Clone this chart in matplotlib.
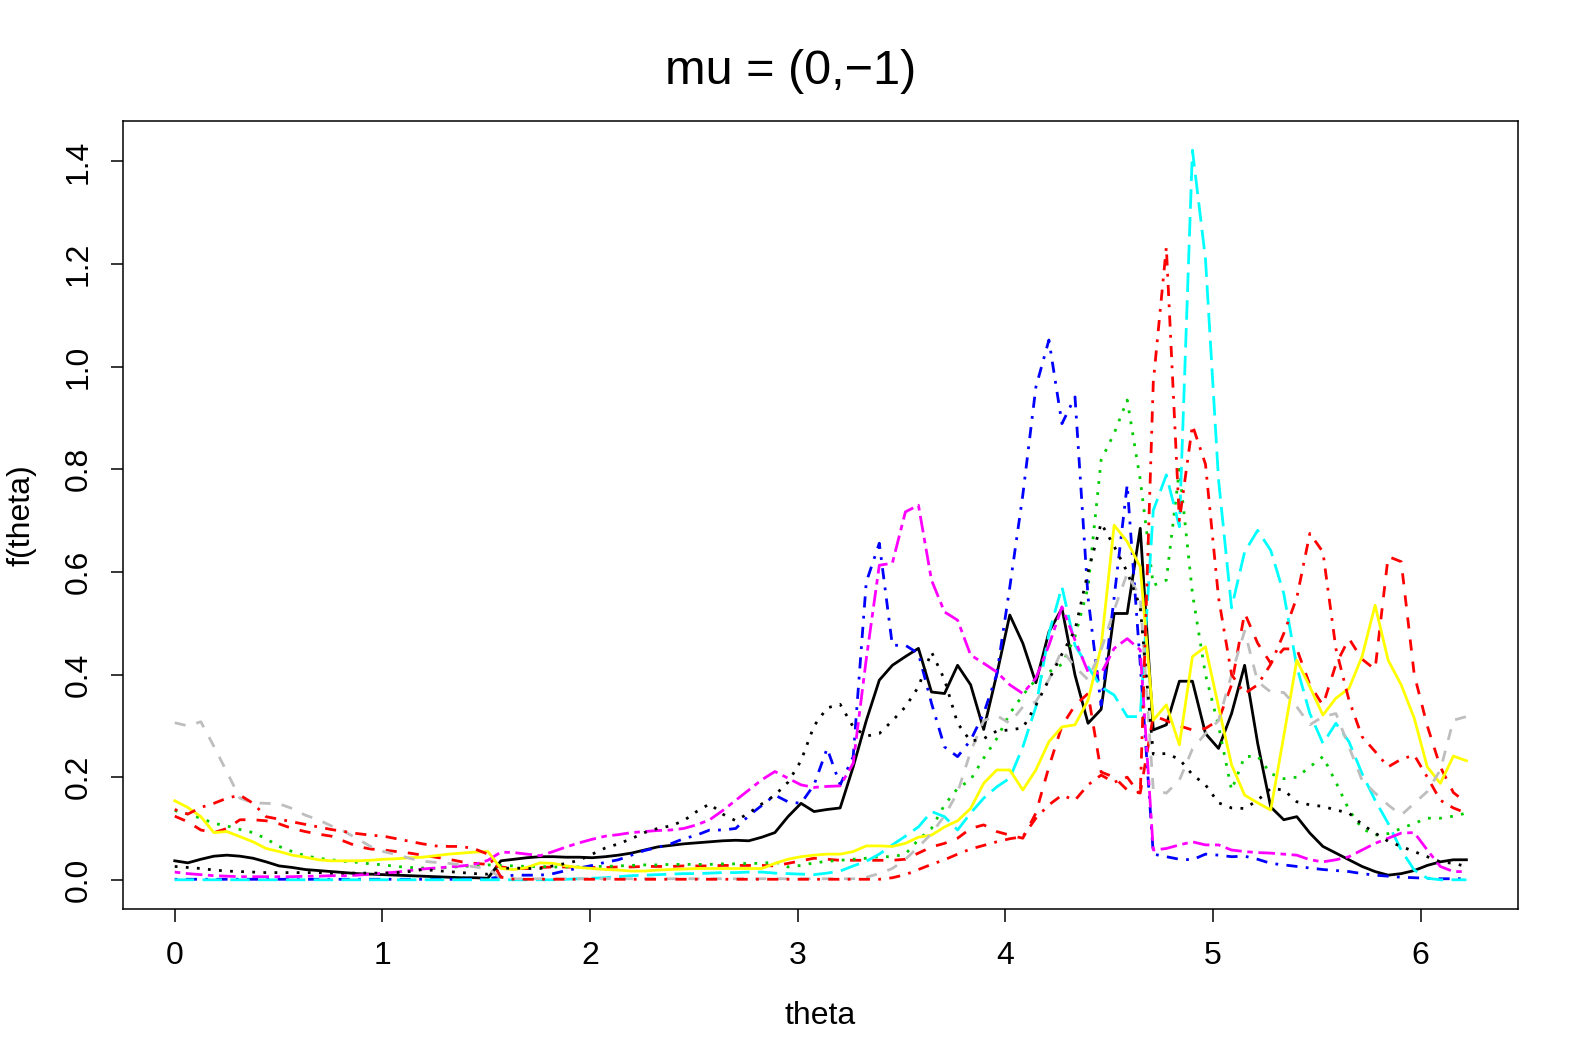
import numpy as np
import matplotlib
matplotlib.use('Agg')
import matplotlib.pyplot as plt

plt.rcParams['font.family'] = ['Liberation Sans', 'DejaVu Sans']

# grid of 100 angles, step 2*pi/100
theta = np.arange(100) * 2 * np.pi / 100

black_solid = [
    .037, .033, .040, .046, .048, .046, .042, .035, .027, .024,
    .020, .018, .016, .014, .012, .011, .010, .009, .008, .007,
    .006, .005, .004, .004, .003, .037, .040, .043, .045, .045,
    .044, .044, .043, .045, .048, .052, .058, .064, .067, .070,
    .072, .074, .076, .077, .076, .083, .092, .123, .149, .133,
    .137, .140, .220, .310, .389, .418, .435, .451, .366, .363,
    .418, .380, .293, .400, .516, .461, .384, .483, .529, .399,
    .305, .332, .519, .519, .685, .292, .302, .387, .387, .285,
    .256, .324, .418, .266, .142, .117, .123, .091, .065, .052,
    .039, .026, .016, .009, .012, .018, .028, .035, .039, .039]

red_dashed = [
    .124, .113, .097, .092, .100, .117, .117, .115, .109, .100,
    .094, .089, .085, .075, .065, .060, .058, .055, .052, .048,
    .044, .040, .035, .032, .030, .025, .022, .022, .024, .025,
    .025, .024, .024, .024, .025, .025, .026, .026, .026, .027,
    .027, .027, .028, .028, .028, .028, .027, .032, .037, .042,
    .040, .038, .038, .038, .038, .038, .040, .052, .064, .071,
    .081, .100, .107, .094, .087, .081, .130, .220, .300, .340,
    .363, .210, .200, .175, .169, .320, .310, .300, .292, .295,
    .311, .380, .520, .461, .422, .450, .450, .380, .340, .420,
    .470, .430, .410, .630, .620, .400, .300, .220, .170, .150]

green_dotted = [
    .135, .128, .120, .110, .105, .098, .092, .080, .065, .055,
    .047, .042, .039, .036, .034, .031, .029, .026, .024, .023,
    .022, .024, .026, .027, .029, .028, .027, .026, .026, .025,
    .025, .025, .026, .026, .027, .028, .029, .029, .030, .030,
    .030, .030, .031, .031, .032, .032, .035, .025, .028, .033,
    .036, .038, .040, .042, .045, .045, .050, .078, .100, .146,
    .178, .195, .237, .275, .324, .360, .390, .405, .420, .474,
    .570, .818, .870, .935, .780, .574, .584, .800, .558, .400,
    .300, .175, .240, .241, .207, .197, .200, .220, .240, .190,
    .136, .100, .087, .090, .100, .110, .120, .120, .124, .130]

blue_dotdash = [
    .001, .001, .001, .001, .001, .001, .001, .001, .001, .001,
    .001, .001, .001, .001, .001, .001, .001, .001, .001, .001,
    .001, .001, .001, .001, .002, .006, .009, .009, .009, .012,
    .018, .023, .028, .034, .039, .048, .057, .063, .070, .080,
    .087, .097, .097, .100, .125, .145, .165, .152, .149, .185,
    .256, .185, .240, .580, .656, .457, .457, .441, .344, .259,
    .240, .272, .324, .400, .570, .750, .960, 1.052, .889, .941,
    .550, .340, .550, .770, .420, .050, .045, .040, .039, .050,
    .048, .045, .046, .040, .032, .029, .026, .023, .020, .018,
    .016, .012, .009, .007, .005, .004, .003, .002, .002, .002]

cyan_longdash = [
    0, 0, 0, 0, 0, 0, 0, 0, 0, 0,
    0, 0, 0, 0, 0, 0, 0, 0, 0, 0,
    0, 0, 0, 0, 0, 0, 0, 0, 0, 0,
    .001, .002, .003, .004, .006, .008, .009, .010, .011, .012,
    .012, .013, .014, .014, .015, .015, .013, .012, .011, .010,
    .013, .017, .027, .036, .050, .068, .085, .103, .133, .123,
    .097, .130, .159, .181, .198, .259, .337, .480, .571, .457,
    .415, .376, .360, .318, .318, .720, .789, .688, 1.422, 1.210,
    .780, .530, .639, .681, .642, .558, .415, .324, .266, .305,
    .269, .207, .155, .110, .058, .019, .003, 0, 0, 0]

magenta_twodash = [
    .015, .012, .010, .008, .007, .006, .006, .006, .006, .006,
    .007, .007, .008, .008, .009, .011, .013, .015, .018, .021,
    .023, .025, .027, .030, .038, .054, .053, .050, .047, .055,
    .064, .072, .079, .085, .088, .092, .094, .096, .097, .100,
    .107, .117, .135, .155, .175, .195, .211, .198, .185, .180,
    .182, .183, .227, .430, .613, .617, .717, .730, .584, .522,
    .506, .438, .422, .405, .380, .363, .393, .457, .532, .467,
    .405, .402, .451, .470, .448, .058, .061, .068, .074, .068,
    .068, .058, .055, .053, .052, .050, .048, .039, .035, .039,
    .045, .058, .071, .081, .091, .092, .058, .026, .016, .016]

yellow_solid = [
    .154, .141, .123, .092, .094, .084, .074, .061, .055, .048,
    .044, .039, .037, .037, .037, .038, .040, .041, .043, .044,
    .047, .050, .052, .054, .055, .022, .020, .024, .033, .032,
    .027, .024, .022, .020, .019, .017, .017, .019, .020, .021,
    .022, .022, .022, .022, .022, .022, .032, .040, .045, .048,
    .050, .050, .055, .066, .066, .065, .071, .083, .087, .103,
    .115, .139, .188, .214, .214, .175, .214, .269, .298, .302,
    .350, .454, .691, .659, .610, .311, .341, .263, .435, .454,
    .337, .224, .165, .150, .136, .280, .428, .376, .321, .354,
    .373, .435, .535, .428, .380, .315, .220, .188, .241, .232]

gray_dashed = [
    .306, .300, .308, .260, .210, .159, .150, .149, .148, .139,
    .126, .117, .105, .094, .080, .065, .055, .049, .042, .036,
    .034, .032, .029, .025, .022, .003, .002, .002, .002, .002,
    .002, .002, .002, .002, .002, .002, .002, .002, .002, .002,
    .002, .002, .002, .002, .002, .002, .002, .002, .002, .002,
    .002, .002, .002, .005, .012, .022, .040, .064, .090, .125,
    .170, .250, .310, .320, .305, .337, .347, .390, .448, .415,
    .390, .448, .526, .597, .550, .175, .169, .194, .255, .285,
    .310, .400, .485, .386, .366, .365, .337, .302, .318, .324,
    .259, .194, .169, .146, .126, .149, .172, .214, .311, .318]

black_dotted = [
    .026, .024, .022, .019, .017, .016, .015, .014, .014, .014,
    .014, .014, .013, .013, .013, .013, .013, .014, .016, .020,
    .018, .016, .014, .012, .011, .022, .023, .022, .022, .027,
    .032, .038, .050, .062, .070, .080, .092, .100, .105, .115,
    .133, .148, .128, .115, .130, .148, .165, .190, .232, .300,
    .335, .342, .298, .280, .285, .310, .337, .376, .444, .390,
    .305, .270, .275, .290, .292, .296, .340, .390, .440, .487,
    .600, .695, .650, .600, .532, .245, .246, .235, .205, .185,
    .150, .140, .139, .155, .178, .175, .152, .146, .143, .136,
    .130, .108, .091, .075, .065, .055, .045, .035, .032, .026]

red_dotdash = [
    .137, .128, .141, .149, .159, .165, .149, .123, .118, .113,
    .108, .103, .098, .094, .090, .087, .085, .080, .075, .070,
    .066, .065, .065, .060, .050, .005, .001, .001, .001, .001,
    .001, .001, .001, .001, .001, .001, .001, .001, .001, .001,
    .001, .001, .001, .001, .001, .001, .001, .001, .001, .001,
    .001, .001, .001, .001, .001, .004, .010, .020, .030, .039,
    .050, .060, .067, .074, .080, .084, .120, .146, .165, .155,
    .185, .204, .190, .200, .165, .970, 1.233, .700, .886, .810,
    .550, .400, .363, .380, .420, .480, .550, .675, .639, .450,
    .350, .279, .250, .220, .235, .243, .200, .155, .140, .130]

# R line types, in units of line width
DASHED = (0, (4, 4))
DOTTED = (0, (1, 3))
DOTDASH = (0, (1, 3, 4, 3))
LONGDASH = (0, (7, 3))
TWODASH = (0, (2, 2, 6, 2))

series = [
    (black_solid, 'black', '-'),
    (red_dashed, '#FF0000', DASHED),
    (green_dotted, '#00CD00', DOTTED),
    (blue_dotdash, '#0000FF', DOTDASH),
    (cyan_longdash, '#00FFFF', LONGDASH),
    (magenta_twodash, '#FF00FF', TWODASH),
    (yellow_solid, '#FFFF00', '-'),
    (gray_dashed, '#BEBEBE', DASHED),
    (black_dotted, 'black', DOTTED),
    (red_dotdash, '#FF0000', DOTDASH),
]


def r_limits(lo, hi):
    pad = 0.04 * (hi - lo)
    return lo - pad, hi + pad


fig = plt.figure(figsize=(15.82, 10.63), dpi=100)
ax = fig.add_axes([0.0778, 0.1449, 0.8818, 0.7413])

for values, color, style in series:
    ax.plot(theta, values, color=color, linestyle=style, linewidth=2.0,
            dash_capstyle='butt', solid_joinstyle='round')

ymax = max(max(v) for v, _, _ in series)
ax.set_xlim(*r_limits(theta[0], theta[-1]))
ax.set_ylim(*r_limits(0, ymax))

ax.set_xticks(range(7))
ax.set_yticks([0.0, 0.2, 0.4, 0.6, 0.8, 1.0, 1.2, 1.4])
ax.set_yticklabels(['0.0', '0.2', '0.4', '0.6', '0.8', '1.0', '1.2', '1.4'],
                   rotation=90, va='center')
ax.tick_params(axis='both', direction='out', length=9, width=1.1,
               labelsize=23, pad=14)
ax.tick_params(axis='y', pad=12)
for sp in ax.spines.values():
    sp.set_linewidth(1.1)

ax.set_xlabel('theta', fontsize=23, labelpad=22)
ax.set_ylabel('f(theta)', fontsize=23, labelpad=20)
fig.suptitle('mu = (0,\u22121)', fontsize=35, y=0.954)

fig.savefig('out.png', dpi=100)
